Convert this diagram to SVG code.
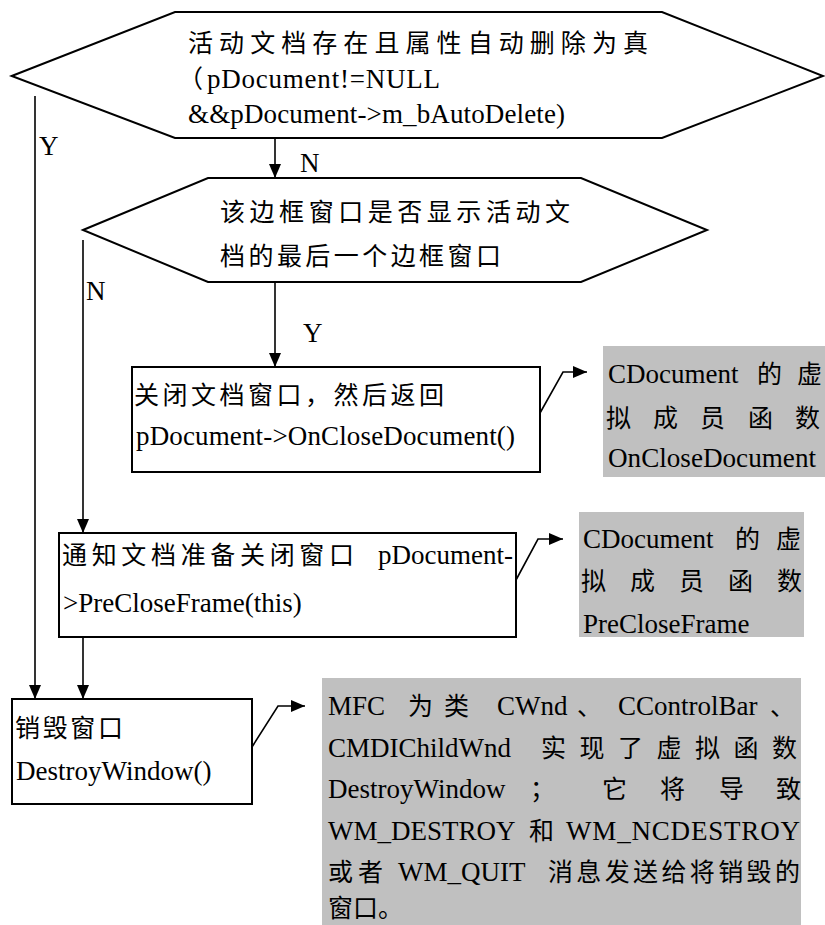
<svg xmlns="http://www.w3.org/2000/svg" width="825" height="925" viewBox="0 0 825 925">
<style>
.t{font-family:"Liberation Serif","Noto Sans CJK SC",serif;font-size:27px;fill:#000}
.c{font-family:"Noto Sans CJK SC","Liberation Serif",sans-serif;font-size:25px;fill:#000}
.shape{fill:#fff;stroke:#000;stroke-width:2}
.note{fill:#c0c0c0;stroke:none}
.conn{fill:none;stroke:#000;stroke-width:1.6}
</style>
<defs>
<marker id="ah" markerUnits="userSpaceOnUse" markerWidth="14" markerHeight="12" refX="14" refY="6" orient="auto">
<path d="M0,0 L14,6 L0,12 z" fill="#000"/>
</marker>
</defs>
<rect width="825" height="925" fill="#fff"/>

<g id="decision1">
<polygon class="shape" points="11.7,76 175,12 662,12 823,76 662,138 175,138"/>
<text class="c" x="188" y="52" textLength="460" lengthAdjust="spacing">活动文档存在且属性自动删除为真</text>
<text class="c" x="178" y="88">（</text>
<text class="t" x="207" y="88" textLength="233" lengthAdjust="spacing">pDocument!=NULL</text>
<text class="t" x="188" y="123" textLength="377" lengthAdjust="spacing">&amp;&amp;pDocument-&gt;m_bAutoDelete)</text>
</g>

<g id="decision2">
<polygon class="shape" points="83,230 208,178 581,178 707,230 581,282 208,282"/>
<text class="c" x="220" y="221" textLength="350" lengthAdjust="spacing">该边框窗口是否显示活动文</text>
<text class="c" x="220" y="265" textLength="281" lengthAdjust="spacing">档的最后一个边框窗口</text>
</g>

<g id="close-doc">
<rect class="shape" x="132" y="367" width="408" height="105"/>
<text class="c" x="134" y="404" textLength="310" lengthAdjust="spacing">关闭文档窗口，然后返回</text>
<text class="t" x="136" y="445" textLength="379" lengthAdjust="spacing">pDocument-&gt;OnCloseDocument()</text>
</g>

<g id="note-close">
<rect class="note" x="603" y="346" width="222" height="131"/>
<text class="t" x="608" y="383">CDocument</text>
<text class="c" x="757" y="383">的</text>
<text class="c" x="797" y="383">虚</text>
<text class="c" x="606" y="427">拟</text>
<text class="c" x="653" y="427">成</text>
<text class="c" x="700" y="427">员</text>
<text class="c" x="748" y="427">函</text>
<text class="c" x="795" y="427">数</text>
<text class="t" x="608" y="467" textLength="208" lengthAdjust="spacingAndGlyphs">OnCloseDocument</text>
</g>

<g id="preclose">
<rect class="shape" x="59" y="533" width="457" height="104"/>
<text class="c" x="62" y="564" textLength="292" lengthAdjust="spacing">通知文档准备关闭窗口</text>
<text class="t" x="378" y="564" textLength="135" lengthAdjust="spacing">pDocument-</text>
<text class="t" x="63" y="612">&gt;PreCloseFrame(this)</text>
</g>

<g id="note-preclose">
<rect class="note" x="579" y="512" width="225" height="125"/>
<text class="t" x="583" y="548">CDocument</text>
<text class="c" x="735" y="548">的</text>
<text class="c" x="776" y="548">虚</text>
<text class="c" x="581" y="590">拟</text>
<text class="c" x="630" y="590">成</text>
<text class="c" x="679" y="590">员</text>
<text class="c" x="728" y="590">函</text>
<text class="c" x="777" y="590">数</text>
<text class="t" x="583" y="633">PreCloseFrame</text>
</g>

<g id="destroy">
<rect class="shape" x="12" y="699" width="240" height="105"/>
<text class="c" x="15" y="737" textLength="108" lengthAdjust="spacing">销毁窗口</text>
<text class="t" x="16" y="780">DestroyWindow()</text>
</g>

<g id="note-destroy">
<rect class="note" x="322" y="678" width="479" height="247"/>
<text class="t" x="328" y="715">MFC</text>
<text class="c" x="408" y="715">为</text>
<text class="c" x="444" y="715">类</text>
<text class="t" x="497" y="715">CWnd</text>
<text class="c" x="577" y="715">、</text>
<text class="t" x="618" y="715">CControlBar</text>
<text class="c" x="770" y="715">、</text>
<text class="t" x="328" y="757">CMDIChildWnd</text>
<text class="c" x="541" y="757" textLength="256" lengthAdjust="spacing">实现了虚拟函数</text>
<text class="t" x="328" y="798">DestroyWindow</text>
<text class="c" x="530" y="798">；</text>
<text class="c" x="602" y="798">它</text>
<text class="c" x="660" y="798">将</text>
<text class="c" x="719" y="798">导</text>
<text class="c" x="776" y="798">致</text>
<text class="t" x="328" y="840">WM_DESTROY</text>
<text class="c" x="529" y="840">和</text>
<text class="t" x="566" y="840" textLength="234" lengthAdjust="spacing">WM_NCDESTROY</text>
<text class="c" x="328" y="881" textLength="55" lengthAdjust="spacing">或者</text>
<text class="t" x="398" y="881">WM_QUIT</text>
<text class="c" x="548" y="881" textLength="252" lengthAdjust="spacing">消息发送给将销毁的</text>
<text class="c" x="328" y="917">窗口。</text>
</g>

<g id="connectors">
<line class="conn" x1="35" y1="96" x2="35" y2="699" marker-end="url(#ah)"/>
<line class="conn" x1="275" y1="138" x2="275" y2="178" marker-end="url(#ah)"/>
<line class="conn" x1="83" y1="240" x2="83" y2="533" marker-end="url(#ah)"/>
<line class="conn" x1="275" y1="282" x2="275" y2="367" marker-end="url(#ah)"/>
<line class="conn" x1="83" y1="637" x2="83" y2="699" marker-end="url(#ah)"/>
<polyline class="conn" points="540,413 563,372 587,372" marker-end="url(#ah)"/>
<polyline class="conn" points="516,580 538,539 563,539" marker-end="url(#ah)"/>
<polyline class="conn" points="252,747 278,706 305,706" marker-end="url(#ah)"/>
<text class="t" x="39" y="155">Y</text>
<text class="t" x="300" y="172">N</text>
<text class="t" x="86" y="300">N</text>
<text class="t" x="303" y="342">Y</text>
</g>
</svg>
